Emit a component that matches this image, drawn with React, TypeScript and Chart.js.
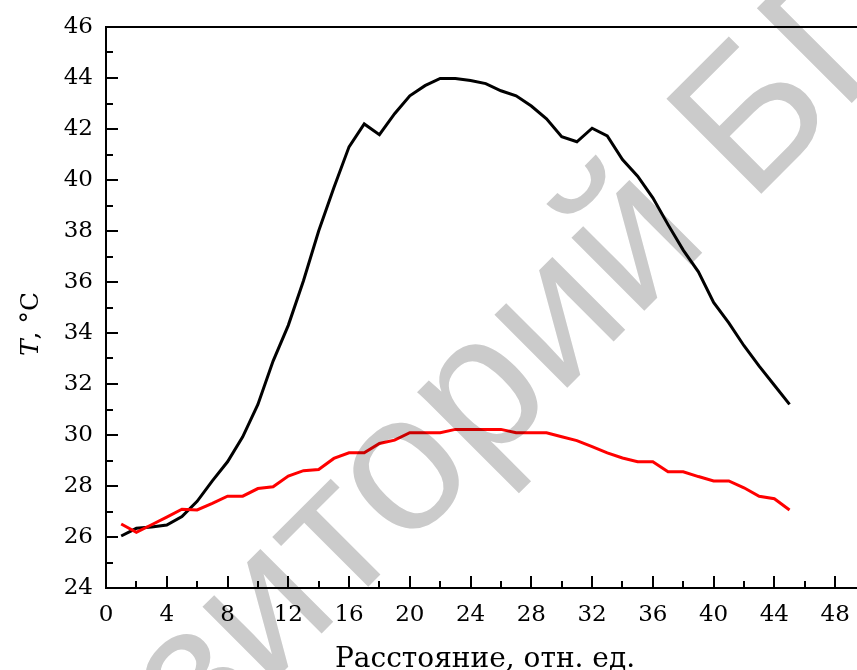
import React, { useEffect, useRef } from "react";
import { Chart, registerables } from "chart.js";

Chart.register(...registerables);

// ---- data ----
const distance = [
  1, 2, 3, 4, 5, 6, 7, 8, 9, 10, 11, 12, 13, 14, 15, 16, 17, 18, 19, 20, 21, 22, 23,
  24, 25, 26, 27, 28, 29, 30, 31, 32, 33, 34, 35, 36, 37, 38, 39, 40, 41, 42, 43, 44, 45,
];
const tempBlack = [
  26.04, 26.34, 26.39, 26.47, 26.8, 27.4, 28.2, 28.95, 29.93, 31.2, 32.9, 34.3, 36.05,
  38.0, 39.7, 41.3, 42.2, 41.78, 42.6, 43.3, 43.7, 43.98, 43.98, 43.9, 43.78, 43.5, 43.3,
  42.9, 42.4, 41.7, 41.5, 42.03, 41.73, 40.8, 40.15, 39.3, 38.25, 37.25, 36.4, 35.2,
  34.4, 33.5, 32.7, 31.95, 31.2,
];
const tempRed = [
  26.51, 26.18, 26.48, 26.78, 27.09, 27.06, 27.32, 27.6, 27.6, 27.9, 27.97, 28.39, 28.6,
  28.65, 29.08, 29.3, 29.3, 29.67, 29.8, 30.09, 30.09, 30.09, 30.22, 30.22, 30.22, 30.22,
  30.09, 30.09, 30.09, 29.93, 29.78, 29.54, 29.3, 29.1, 28.95, 28.95, 28.56, 28.56, 28.37,
  28.2, 28.2, 27.93, 27.6, 27.5, 27.06,
];
const xTicks = [0, 2, 4, 6, 8, 10, 12, 14, 16, 18, 20, 22, 24, 26, 28, 30, 32, 34, 36, 38, 40, 42, 44, 46, 48];
const yTicks = [24, 25, 26, 27, 28, 29, 30, 31, 32, 33, 34, 35, 36, 37, 38, 39, 40, 41, 42, 43, 44, 45, 46];
const xTitle = "Расстояние, отн. ед.";
const yTitleVar = "T";
const yTitleUnit = ", °C";
const watermarkBefore = "Репозиторий ";
const watermarkAfter = "БГПУ";

const SERIF = "'DejaVu Serif', serif";

const decor = {
  id: "decor",
  afterDraw(chart: any) {
    const { ctx, chartArea: ca, scales } = chart;
    const xs = scales.x;
    const ys = scales.y;
    ctx.save();
    ctx.strokeStyle = "#000";
    ctx.lineWidth = 2;
    ctx.lineCap = "butt";
    // axes + top border
    ctx.beginPath();
    ctx.moveTo(ca.left, ca.top);
    ctx.lineTo(ca.right, ca.top);
    ctx.moveTo(ca.left, ca.top - 1);
    ctx.lineTo(ca.left, ca.bottom + 1);
    ctx.moveTo(ca.left - 1, ca.bottom);
    ctx.lineTo(ca.right, ca.bottom);
    ctx.stroke();
    // inner ticks
    ctx.beginPath();
    xTicks.forEach((v) => {
      if (v === xs.min) return;
      const px = Math.round(xs.getPixelForValue(v));
      const len = v % 4 === 0 ? 12 : 7;
      ctx.moveTo(px, ca.bottom);
      ctx.lineTo(px, ca.bottom - len);
    });
    yTicks.forEach((v) => {
      if (v === ys.min || v === ys.max) return;
      const py = Math.round(ys.getPixelForValue(v));
      const len = v % 2 === 0 ? 12 : 7;
      ctx.moveTo(ca.left, py);
      ctx.lineTo(ca.left + len, py);
    });
    ctx.stroke();

    // titles
    ctx.fillStyle = "#000";
    ctx.textBaseline = "alphabetic";
    ctx.font = `28px ${SERIF}`;
    ctx.textAlign = "center";
    ctx.fillText(xTitle, 485, 667);

    ctx.save();
    ctx.translate(38, 324);
    ctx.rotate(-Math.PI / 2);
    ctx.font = `italic 25px ${SERIF}`;
    const w1 = ctx.measureText(yTitleVar).width;
    ctx.font = `25px ${SERIF}`;
    const w2 = ctx.measureText(yTitleUnit).width;
    const start = -(w1 + w2) / 2;
    ctx.textAlign = "left";
    ctx.font = `italic 25px ${SERIF}`;
    ctx.fillText(yTitleVar, start, 0);
    ctx.font = `25px ${SERIF}`;
    ctx.fillText(yTitleUnit, start + w1, 0);
    ctx.restore();

    // watermark
    ctx.save();
    ctx.globalCompositeOperation = "multiply";
    ctx.fillStyle = "#cbcbcb";
    ctx.translate(750, 205);
    ctx.rotate(-Math.PI / 4);
    ctx.font = `195px 'Liberation Sans', Arial, sans-serif`;
    ctx.textBaseline = "alphabetic";
    ctx.textAlign = "right";
    ctx.fillText(watermarkBefore, 0, 0);
    ctx.textAlign = "left";
    ctx.fillText(watermarkAfter, 0, 0);
    ctx.restore();

    ctx.restore();
  },
};

export default function App() {
  const ref = useRef<HTMLCanvasElement | null>(null);
  useEffect(() => {
    if (!ref.current) return;
    const chart = new Chart(ref.current, {
      type: "line",
      data: {
        datasets: [
          {
            label: "red",
            data: distance.map((d, i) => ({ x: d, y: tempRed[i] })),
            borderColor: "#ff0000",
            borderWidth: 3,
            pointRadius: 0,
            tension: 0,
            fill: false,
          },
          {
            label: "black",
            data: distance.map((d, i) => ({ x: d, y: tempBlack[i] })),
            borderColor: "#000000",
            borderWidth: 3,
            pointRadius: 0,
            tension: 0,
            fill: false,
          },
        ],
      },
      options: {
        animation: false,
        responsive: false,
        maintainAspectRatio: false,
        layout: { padding: { top: 27, right: 0, left: 0, bottom: 0 } },
        plugins: { legend: { display: false }, tooltip: { enabled: false } },
        scales: {
          x: {
            type: "linear",
            min: 0,
            max: 49.44,
            afterBuildTicks: (scale: any) => {
              scale.ticks = xTicks.filter((v) => v % 4 === 0).map((v) => ({ value: v }));
            },
            afterFit: (scale: any) => {
              scale.height = 82;
              scale.paddingRight = 0;
              scale.paddingLeft = 0;
            },
            grid: { display: false, drawTicks: false },
            border: { display: false },
            ticks: {
              color: "#000",
              padding: 13,
              maxRotation: 0,
              autoSkip: false,
              font: { family: SERIF, size: 23 },
            },
          },
          y: {
            type: "linear",
            min: 24,
            max: 46,
            afterBuildTicks: (scale: any) => {
              scale.ticks = yTicks.filter((v) => v % 2 === 0).map((v) => ({ value: v }));
            },
            afterFit: (scale: any) => {
              scale.width = 106;
            },
            grid: { display: false, drawTicks: false },
            border: { display: false },
            ticks: {
              color: "#000",
              padding: 13,
              autoSkip: false,
              font: { family: SERIF, size: 23 },
            },
          },
        },
      },
      plugins: [decor],
    });
    return () => chart.destroy();
  }, []);
  return (
    <div style={{ position: "fixed", left: 0, top: 0, width: 857, height: 670, background: "#fff" }}>
      <canvas ref={ref} width={857} height={670} style={{ display: "block" }} />
    </div>
  );
}
